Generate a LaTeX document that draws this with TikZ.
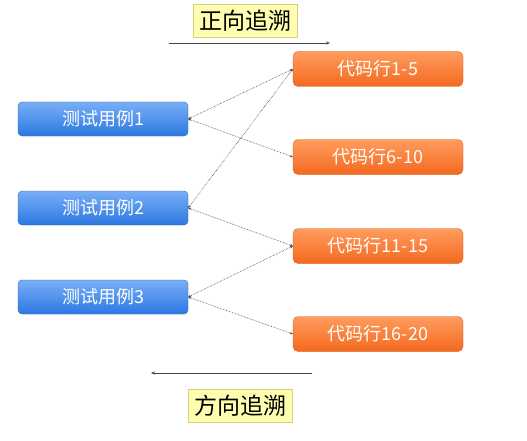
\documentclass[tikz,border=0pt]{standalone}
\usepackage{fontspec}
\setmainfont{Noto Sans CJK SC}
\usetikzlibrary{arrows.meta,shadows}
\definecolor{bluetop}{HTML}{78AEF6}
\definecolor{bluebot}{HTML}{2C78E2}
\definecolor{orgtop}{HTML}{FF9C5E}
\definecolor{orgbot}{HTML}{F4691F}
\definecolor{lbl}{HTML}{FFFDB0}
\definecolor{lblborder}{HTML}{D8CF7A}
\definecolor{edge}{HTML}{444444}
\tikzset{
  testbox/.style={rounded corners=4pt, minimum width=170pt, minimum height=34pt, inner sep=0pt,
    top color=bluetop, bottom color=bluebot, draw=bluebot!80!black, line width=0.3pt,
    text=white, font=\fontsize{18}{20}\selectfont},
  codebox/.style={rounded corners=5pt, minimum width=170pt, minimum height=35pt, inner sep=0pt,
    top color=orgtop, bottom color=orgbot, draw=orgbot!85!black, line width=0.3pt,
    text=white, font=\fontsize{18}{20}\selectfont},
  lblbox/.style={fill=lbl, draw=lblborder, line width=0.6pt, minimum width=104pt, minimum height=33pt,
    inner sep=0pt, text=black, font=\fontsize{23}{26}\selectfont},
  link/.style={draw=edge, line width=0.6pt, densely dotted, {Stealth[length=3pt,width=2.5pt]}-{Stealth[length=3pt,width=2.5pt]}},
  dirarrow/.style={draw=edge, line width=0.8pt, -{Stealth[length=4pt,width=3pt]}}
}
\begin{document}
\begin{tikzpicture}[x=1pt,y=-1pt]
\useasboundingbox (0,0) rectangle (527,441);
\fill[white] (0,0) rectangle (527,441);
% test cases
\node[testbox] (t1) at (103,119) {测试用例1};
\node[testbox] (t2) at (103,208) {测试用例2};
\node[testbox] (t3) at (103,297) {测试用例3};
% code lines
\node[codebox] (c1) at (378,69) {代码行1-5};
\node[codebox] (c2) at (378,157) {代码行6-10};
\node[codebox] (c3) at (378,246) {代码行11-15};
\node[codebox] (c4) at (378,334) {代码行16-20};
% links
\draw[link] (t1.east) -- (c1.west);
\draw[link] (t1.east) -- (c2.west);
\draw[link] (t2.east) -- (c1.west);
\draw[link] (t2.east) -- (c3.west);
\draw[link] (t3.east) -- (c3.west);
\draw[link] (t3.east) -- (c4.west);
% direction labels
\node[lblbox] (fw) at (245.5,21) {正向追溯};
\coordinate (fwa) at (169,43);
\coordinate (fwb) at (330,43);
\draw[dirarrow] (fwa) -- (fwb);
\node[lblbox] (bw) at (240,406) {方向追溯};
\coordinate (bwa) at (312,373);
\coordinate (bwb) at (151,373);
\draw[dirarrow] (bwa) -- (bwb);
\end{tikzpicture}
\end{document}
